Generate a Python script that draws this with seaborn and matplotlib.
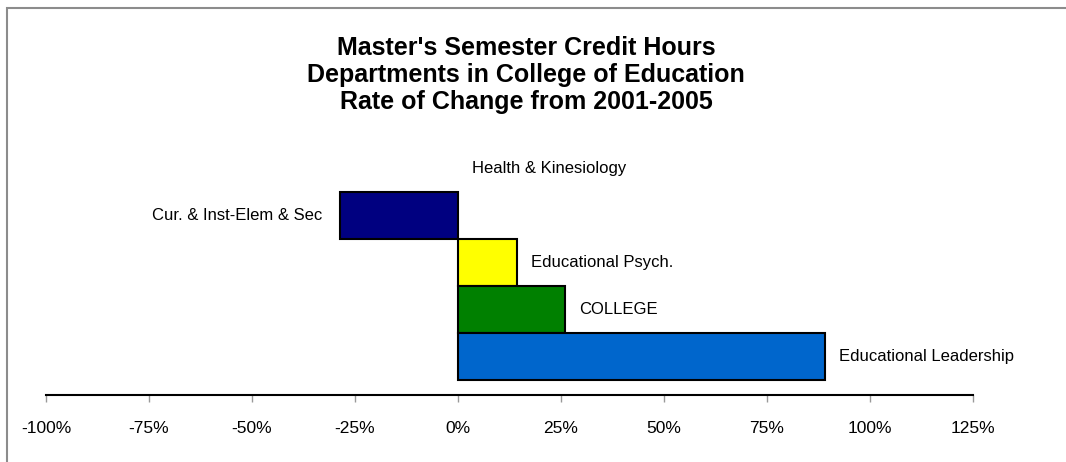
import seaborn as sns
import matplotlib.pyplot as plt
from matplotlib.patches import Rectangle

# data
departments = ["Health & Kinesiology", "Cur. & Inst-Elem & Sec", "Educational Psych.",
               "COLLEGE", "Educational Leadership"]
change_pct = [0, -28.6, 14.3, 26.0, 89.0]
bar_colors = ["#FFFFFF", "#000080", "#FFFF00", "#008000", "#0066CC"]
x_ticks = [-100, -75, -50, -25, 0, 25, 50, 75, 100, 125]
title = ("Master's Semester Credit Hours\n"
         "Departments in College of Education\n"
         "Rate of Change from 2001-2005")

sns.set_style("white")
plt.rcParams['font.family'] = ['Liberation Sans', 'DejaVu Sans']
plt.rcParams['text.color'] = 'black'
plt.rcParams['xtick.color'] = 'black'

fig = plt.figure(figsize=(10.66, 4.62), dpi=100)
ax = fig.add_axes([46 / 1066, 1 - 395 / 462, 927 / 1066, 265 / 462])

sns.barplot(x=change_pct, y=departments, hue=departments, palette=bar_colors,
            orient="h", width=1.0, saturation=1, edgecolor="black", linewidth=1.5,
            legend=False, ax=ax)

# zero-width bars should not leave an edge line
for p in ax.patches:
    if abs(p.get_width()) < 1e-9:
        p.set_linewidth(0)

# category names as labels at the bar ends
for i, (name, v) in enumerate(zip(departments, change_pct)):
    if v >= 0:
        ax.annotate(name, (v, i), xytext=(10, 0), textcoords="offset points",
                    ha="left", va="center", fontsize=12, color="black")
    else:
        ax.annotate(name, (v, i), xytext=(-13, 0), textcoords="offset points",
                    ha="right", va="center", fontsize=12, color="black")

ax.set_xlim(x_ticks[0], x_ticks[-1])
ax.set_ylim(4.82, -0.82)
ax.set_xticks(x_ticks)
ax.set_xticklabels([f"{t}%" for t in x_ticks], fontsize=12.5, color="black")
ax.tick_params(axis="x", bottom=True, direction="out", length=5, width=1,
               color="#999999", pad=14)
ax.set_yticks([])
ax.set_ylabel("")
for s in ["left", "right", "top"]:
    ax.spines[s].set_visible(False)
ax.spines["bottom"].set_color("black")
ax.spines["bottom"].set_linewidth(1.5)

fig.text(526 / 1066, 1 - 75 / 462, title, ha="center", va="center",
         fontsize=18, fontweight="bold", linespacing=1.15, color="black")

# chart border (cut off at the right and bottom, as in the reference)
fig.patches.append(Rectangle((6.5 / 1066, -0.1), 1.2, 1.1 - 8.5 / 462,
                             transform=fig.transFigure, fill=False,
                             edgecolor="#8c8c8c", linewidth=1.5))

fig.savefig("out.png", dpi=100)
